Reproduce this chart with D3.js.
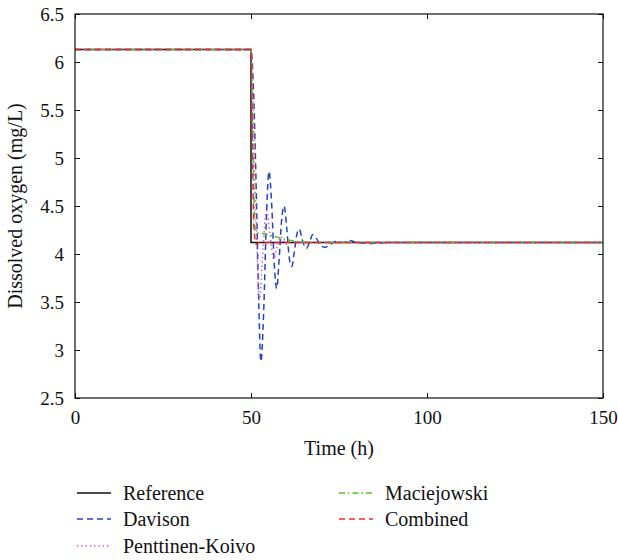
<!DOCTYPE html>
<html>
<head>
<meta charset="utf-8">
<script src="https://cdn.jsdelivr.net/npm/d3@7"></script>
<style>
  body { margin: 0; background: #fff; }
  svg text { font-family: "Liberation Serif", "Times New Roman", serif; fill: #111; }
</style>
</head>
<body>
<svg width="618" height="560"></svg>
<script>
// tick labels
const xTicks = [0, 50, 100, 150]
const yTicks = [2.5, 3, 3.5, 4, 4.5, 5, 5.5, 6, 6.5]

// series (time in h, dissolved oxygen in mg/L)
const refT = [0, 50, 50, 150]
const refV = [6.13, 6.13, 4.12, 4.12]

const davT = [0, 50, 50.5, 51.4, 52.2, 52.8, 53.6, 54.4, 55.1, 55.9, 56.6, 57.3, 58.0, 58.7, 59.4, 60.2, 60.9, 61.6, 62.3, 63.0, 63.7, 64.5, 65.2, 65.8, 66.7, 67.5, 68.6, 69.8, 71, 72.6, 74, 76, 78, 80, 84, 90, 150]
const davV = [6.13, 6.13, 5.9, 4.8, 3.5, 2.88, 3.4, 4.4, 4.86, 4.5, 3.9, 3.64, 3.95, 4.35, 4.5, 4.25, 3.95, 3.87, 4.02, 4.2, 4.26, 4.16, 4.08, 4.06, 4.13, 4.2, 4.16, 4.09, 4.07, 4.1, 4.13, 4.12, 4.14, 4.12, 4.11, 4.12, 4.12]

const pkT = [0, 50, 50.6, 51.5, 52.4, 53.4, 54.4, 55.4, 56.4, 57.5, 58.5, 60, 62, 150]
const pkV = [6.13, 6.13, 5.5, 4.3, 3.52, 4.05, 4.45, 4.2, 3.95, 4.08, 4.18, 4.1, 4.12, 4.12]

const macT = [0, 50, 50.6, 51.2, 52, 54, 56, 58, 60, 63, 66, 150]
const macV = [6.13, 6.13, 5.0, 4.25, 4.22, 4.21, 4.19, 4.17, 4.15, 4.13, 4.12, 4.12]

const comT = [0, 50, 50.3, 50.8, 51.5, 52.5, 150]
const comV = [6.13, 6.13, 5.5, 4.3, 4.1, 4.12, 4.12]

const seriesNames = ['Reference', 'Davison', 'Penttinen-Koivo', 'Maciejowski', 'Combined']
const seriesColors = ['#111111', '#2244c4', '#d04fc0', '#55c02a', '#ee2b2b']
const seriesDash = ['none', '6,4', '1.3,3', '6,3,1.5,3', '6,4']
const seriesT = [refT, davT, pkT, macT, comT]
const seriesV = [refV, davV, pkV, macV, comV]

const svg = d3.select('svg')
const margin = { left: 75, top: 14, right: 15, bottom: 162 },
      width = 603 - margin.left,
      height = 398 - margin.top

const x = d3.scaleLinear().domain([0, 150]).range([0, width])
const y = d3.scaleLinear().domain([2.5, 6.5]).range([height, 0])

const g = svg.append('g').attr('transform', `translate(${margin.left},${margin.top})`)

// axes with inward ticks, mirrored on top/right
const styleAxis = (sel) => {
    sel.select('.domain').remove()
    sel.selectAll('line').attr('stroke', '#111')
    sel.selectAll('text').style('font-size', '19px')
}
g.append('g')
    .attr('transform', `translate(0,${height})`)
    .call(d3.axisBottom(x).tickValues(xTicks).tickSize(-5).tickPadding(13))
    .call(styleAxis)
g.append('g')
    .call(d3.axisTop(x).tickValues(xTicks).tickSize(-5).tickFormat(''))
    .call(styleAxis)
g.append('g')
    .call(d3.axisLeft(y).tickValues(yTicks).tickSize(-5).tickPadding(11).tickFormat(d3.format('')))
    .call(styleAxis)
g.append('g')
    .attr('transform', `translate(${width},0)`)
    .call(d3.axisRight(y).tickValues(yTicks).tickSize(-5).tickFormat(''))
    .call(styleAxis)

const line = d3.line()
    .x(d => x(d[0]))
    .y(d => y(d[1]))
    .curve(d3.curveMonotoneX)

seriesNames.forEach((name, i) => {
    const pts = seriesT[i].map((t, j) => [t, seriesV[i][j]])
    g.append('path')
        .datum(pts)
        .attr('fill', 'none')
        .attr('stroke', seriesColors[i])
        .attr('stroke-width', 1.5)
        .attr('stroke-dasharray', seriesDash[i])
        .attr('d', i === 0 ? d3.line().x(d => x(d[0])).y(d => y(d[1]))(pts) : line(pts))
})

// frame
g.append('rect')
    .attr('width', width)
    .attr('height', height)
    .attr('fill', 'none')
    .attr('stroke', '#111')
    .attr('stroke-width', 1.2)

// axis titles
svg.append('text')
    .attr('x', margin.left + width / 2)
    .attr('y', 455)
    .attr('text-anchor', 'middle')
    .style('font-size', '20px')
    .text('Time (h)')
svg.append('text')
    .attr('transform', `translate(22,${margin.top + height / 2}) rotate(-90)`)
    .attr('text-anchor', 'middle')
    .style('font-size', '20px')
    .text('Dissolved oxygen (mg/L)')

// legend
const legendPos = [[77, 493], [77, 519], [77, 546], [339, 493], [339, 519]]
const legend = svg.append('g')
seriesNames.forEach((name, i) => {
    const [lx, ly] = legendPos[i]
    legend.append('line')
        .attr('x1', lx).attr('x2', lx + 34)
        .attr('y1', ly).attr('y2', ly)
        .attr('stroke', seriesColors[i])
        .attr('stroke-width', 1.3)
        .attr('stroke-dasharray', seriesDash[i])
    legend.append('text')
        .attr('x', lx + 46)
        .attr('y', ly)
        .attr('dy', '0.35em')
        .style('font-size', '20px')
        .text(name)
})
</script>
</body>
</html>
